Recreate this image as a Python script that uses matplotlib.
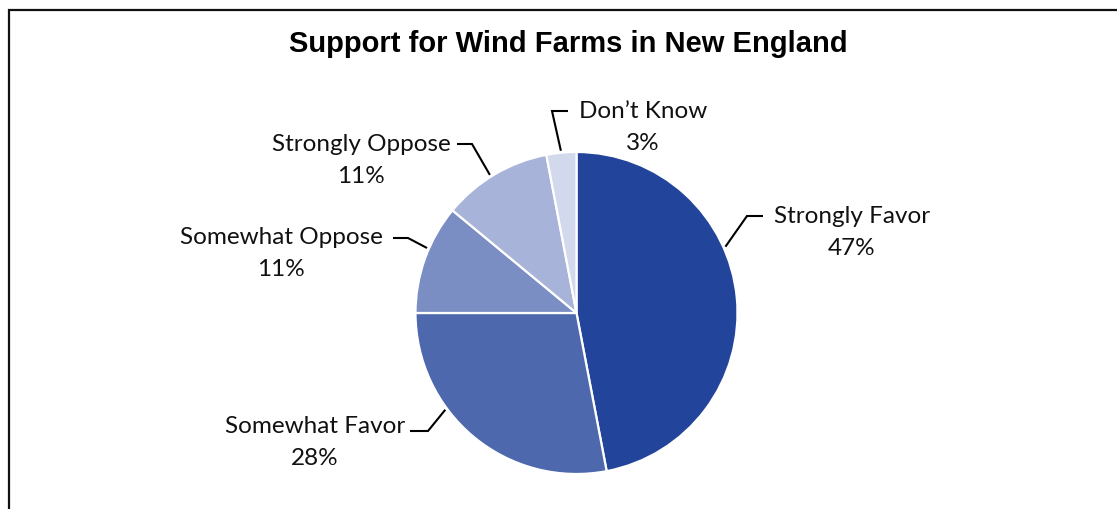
import matplotlib
matplotlib.use("Agg")
import matplotlib.pyplot as plt
import numpy as np

# Survey responses
categories = ["Strongly Favor", "Somewhat Favor", "Somewhat Oppose", "Strongly Oppose", "Don\u2019t Know"]
shares = [47, 28, 11, 11, 3]
colors = ["#22449A", "#4E68AE", "#7A8EC4", "#A7B3D8", "#D3D9EC"]
title = "Support for Wind Farms in New England"

W, H = 1117, 510
fig = plt.figure(figsize=(W / 100, H / 100), dpi=100)
ax = fig.add_axes([0, 0, 1, 1])


def fy(y):
    """Convert a top-down pixel row into the axes' bottom-up y."""
    return H - y


# pie geometry (pixels)
cx, cy, r = 576.5, 314, 161

wedges, _ = ax.pie(
    shares, colors=colors, startangle=90, counterclock=False,
    center=(cx, fy(cy)), radius=r, frame=True,
    wedgeprops=dict(edgecolor="white", linewidth=1.6),
)
ax.set_xlim(0, W)
ax.set_ylim(0, H)
ax.set_aspect("auto")
ax.axis("off")

# label layout: edge angle, elbow point, line end, text centre x, name baseline
layout = {
    "Strongly Favor": (24.0, (747, 217), (763, 217), 852, 223),
    "Somewhat Favor": (216.4, (428, 432), (410, 432), 315, 433),
    "Somewhat Oppose": (156.5, (408, 239), (393, 239), 281, 244),
    "Strongly Oppose": (122.1, (472, 145), (457, 145), 361, 151),
    "Don\u2019t Know": (95.5, (552, 112), (568, 112), 643, 118),
}

label_font = dict(family=["Lato", "DejaVu Sans"], size=17.5, color="#111111")
for name, val in zip(categories, shares):
    ang, elbow, end, tx, base = layout[name]
    a = np.deg2rad(ang)
    ex = cx + (r + 2) * np.cos(a)
    ey = cy - (r + 2) * np.sin(a)
    ax.plot([ex, elbow[0], end[0]], [fy(ey), fy(elbow[1]), fy(end[1])],
            color="black", lw=1.5, solid_capstyle="butt", solid_joinstyle="miter")
    ax.text(tx, fy(base), name, ha="center", va="baseline", **label_font)
    ax.text(tx, fy(base + 32), f"{val}%", ha="center", va="baseline", **label_font)

ax.text(568, fy(52), title, ha="center", va="baseline",
        family="Liberation Sans", fontweight="bold", size=21, color="black")

# chart frame (left and top edges visible)
ax.plot([9, 9, W + 10], [fy(H + 10), fy(11), fy(11)], color="#111111",
        lw=1.6, clip_on=False, solid_joinstyle="miter")

fig.savefig("out.png", dpi=100, facecolor="white")
